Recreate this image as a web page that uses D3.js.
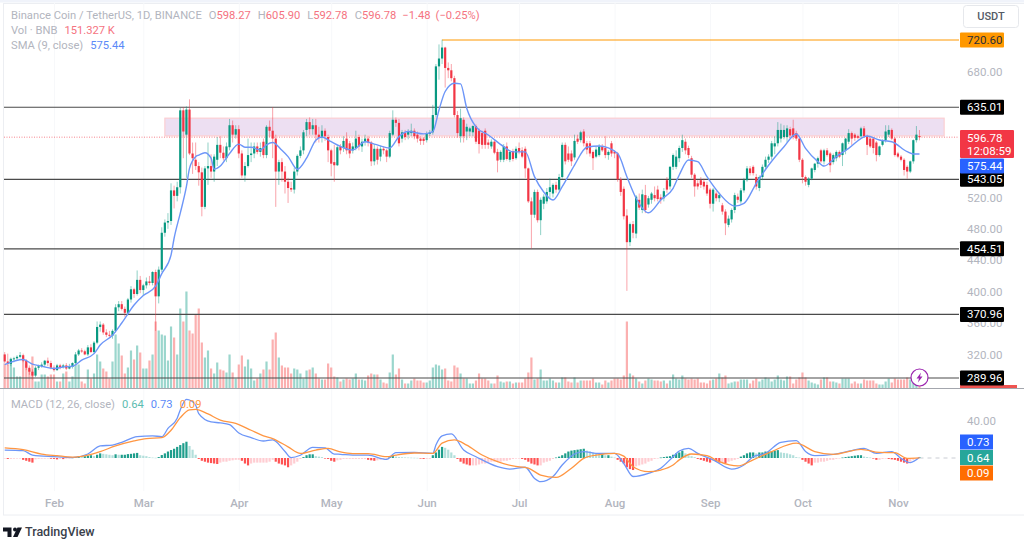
<!DOCTYPE html>
<html>
<head>
<meta charset="utf-8">
<script src="https://cdn.jsdelivr.net/npm/d3@7"></script>
<style>
  html, body { margin: 0; padding: 0; background: #fff; }
  svg { display: block; }
  text { font-family: Roboto, "Open Sans", sans-serif; }
</style>
</head>
<body>
<svg id="chart" width="1024" height="540"></svg>
<script>
// daily candles, bar 0 = 16 Jan
const opens = [
  320,311,308,314,315,317,319,312,303,298,
  293,303,305,307,312,309,303,300,306,304,
  306,302,304,309,320,325,324,320,329,323,
  335,355,358,348,345,344,350,380,384,378,
  373,390,403,397,415,402,408,413,411,425,
  394,428,475,488,490,529,522,533,631,600,
  632,576,568,560,552,508,557,560,553,568,
  587,577,570,584,612,600,607,576,548,560,
  574,576,585,578,591,574,610,605,595,553,
  565,553,540,532,530,553,573,580,606,616,
  607,612,600,596,605,597,580,565,561,585,
  583,595,589,580,583,597,585,591,595,590,
  566,582,572,582,580,572,600,619,615,595,
  602,600,602,605,600,595,595,593,601,603,
  625,687,697,711,685,682,672,625,598,619,
  604,604,603,611,605,602,605,590,585,591,
  578,568,568,585,568,579,570,583,580,582,
  557,515,498,527,491,512,515,527,525,536,
  530,546,587,576,576,571,595,593,604,589,
  589,578,572,574,585,583,574,589,578,576,
  543,531,497,463,486,474,517,504,523,511,
  517,523,530,520,519,542,534,559,559,570,
  583,591,583,570,549,538,542,540,536,530,
  512,525,519,510,502,485,492,504,521,515,
  529,542,557,559,546,532,546,559,568,572,
  585,589,595,597,597,607,608,602,595,568,
  546,536,544,555,563,580,566,580,576,565,
  570,578,574,580,591,602,600,598,598,608,
  598,595,595,590,574,587,593,600,606,595,
  576,572,568,559,553,566,593,598.27
];
const highs = [
  323,321,316,317,319,323,321,314,306,301,
  305,307,310,313,316,312,306,308,308,308,
  309,308,310,323,327,328,326,332,333,337,
  362,362,360,352,350,352,384,388,388,381,
  392,407,405,427,420,410,418,420,426,428,
  432,482,492,500,538,535,540,634,635,636,
  645,590,590,565,558,560,590,575,575,597,
  598,585,590,620,618,612,612,580,565,595,
  590,590,590,590,595,612,618,635,600,568,
  570,560,545,540,558,575,585,606,620,622,
  620,620,610,612,608,600,582,587,586,588,
  598,603,592,590,605,600,595,600,598,592,
  588,585,586,585,582,605,631,622,620,606,
  606,607,614,608,604,598,597,604,606,638,
  690,715,721,712,692,690,675,630,633,622,
  614,610,612,613,608,605,608,594,594,593,
  582,580,588,590,580,582,585,590,584,585,
  558,520,530,530,520,524,532,544,538,540,
  550,590,590,585,580,600,600,605,607,592,
  592,580,585,588,588,598,580,592,580,578,
  546,534,505,488,490,523,525,530,536,522,
  527,534,535,524,532,546,560,576,580,586,
  600,595,586,573,551,542,546,544,540,532,
  532,528,526,513,505,497,506,526,525,532,
  545,560,560,561,550,548,562,572,575,592,
  598,616,614,612,612,610,619,605,597,570,
  548,546,558,564,572,582,582,583,578,576,
  580,580,590,596,607,604,602,600,610,611,
  600,597,597,592,586,594,612,612,608,597,
  578,574,570,561,567,594,611,605.9
];
const lows = [
  309,306,305,310,312,315,310,300,294,288,
  291,300,303,304,305,301,298,299,301,302,
  300,301,302,307,318,322,319,318,322,321,
  333,349,345,342,341,340,348,375,376,368,
  370,386,392,395,398,395,404,408,408,350,
  385,425,470,480,485,506,515,525,570,545,
  574,550,555,535,496,505,536,545,540,560,
  570,567,565,580,590,595,570,545,540,558,
  565,570,575,572,570,570,597,570,508,536,
  540,525,513,527,525,548,570,575,598,600,
  600,590,590,590,592,565,547,540,560,575,
  578,575,570,576,580,580,578,586,585,560,
  561,562,566,575,565,570,598,610,585,590,
  593,594,598,594,590,587,587,590,598,600,
  622,670,690,660,672,668,622,596,590,590,
  593,598,598,588,576,582,582,582,582,575,
  552,565,565,567,565,566,568,575,570,545,
  513,455,494,488,472,505,512,518,520,526,
  528,544,562,565,560,568,588,590,585,575,
  572,555,570,572,578,570,568,572,570,540,
  522,492,401,458,468,468,504,500,500,507,
  512,515,515,512,515,526,530,555,556,565,
  578,575,570,545,521,530,532,530,522,506,
  502,515,514,498,472,482,488,500,513,512,
  526,540,548,548,530,528,542,555,564,568,
  575,585,590,594,590,596,594,592,565,538,
  535,533,542,552,558,564,562,572,552,562,
  566,570,560,575,588,587,592,594,595,597,
  574,583,576,566,572,585,590,597,593,572,
  570,566,548,544,551,563,590,592.78
];
const closes = [
  311,308,314,315,317,319,312,303,298,293,
  303,305,307,312,309,303,300,306,304,306,
  302,304,309,320,325,324,320,329,323,335,
  355,358,348,345,344,350,380,384,378,373,
  390,403,397,415,402,408,413,411,425,394,
  428,475,488,490,529,522,533,631,604,632,
  576,570,560,552,508,557,560,553,572,587,
  577,570,585,612,600,607,576,548,560,574,
  576,585,578,583,574,610,605,595,553,565,
  553,540,532,530,553,573,580,603,616,607,
  612,600,596,605,598,580,563,561,584,580,
  592,580,576,585,595,585,591,595,590,566,
  582,568,582,580,572,602,619,615,589,603,
  597,604,605,598,595,592,592,601,603,625,
  687,697,711,685,682,672,625,602,621,598,
  610,608,611,591,588,587,587,587,591,577,
  567,578,585,569,578,569,582,578,572,557,
  515,498,527,491,517,521,527,533,536,530,
  546,587,566,568,566,592,591,603,589,581,
  576,570,581,585,580,574,578,576,576,543,
  527,496,463,486,475,521,507,524,504,519,
  525,519,518,517,528,530,559,574,572,583,
  593,580,574,549,534,534,536,534,525,512,
  530,519,523,502,487,493,504,523,517,529,
  542,557,551,551,534,546,559,568,572,589,
  589,606,606,606,608,599,597,595,568,546,
  540,544,557,563,570,566,580,574,561,574,
  578,572,589,595,602,595,596,596,608,598,
  587,585,583,574,585,593,604,606,595,574,
  572,568,555,553,566,593,600,596.78
];
const volumes = [
  1250,1200,1500,1050,600,600,1400,1250,950,1600,
  350,350,700,700,600,700,700,350,350,750,
  850,350,600,1200,1200,350,250,950,500,750,
  1700,1350,1000,850,500,1350,2700,2250,1650,750,
  1050,1900,1450,2150,1800,1000,1000,1400,1700,3350,
  2900,2700,2650,1400,3100,2550,1700,4000,3350,4850,
  2900,2750,3700,4000,2300,1550,1900,1000,750,1300,
  950,900,800,1700,800,500,1200,1650,1100,1450,
  1000,400,500,750,950,1350,950,2450,2800,1550,
  1150,1050,1050,750,1000,950,750,500,900,950,
  1050,750,500,450,450,1250,1050,600,550,350,
  450,500,450,500,750,450,450,400,650,750,
  700,700,450,300,250,800,1700,700,1000,450,
  250,250,400,500,400,400,300,300,400,1050,
  1200,1150,950,1000,400,350,1150,1050,750,500,
  500,250,250,400,750,500,500,400,250,250,
  650,350,300,350,350,250,300,300,300,500,
  800,1550,450,500,950,400,400,500,400,300,
  300,550,550,350,300,550,300,400,400,400,
  400,500,300,300,200,400,300,400,500,500,
  450,650,3350,750,650,500,350,250,400,500,
  450,400,400,350,400,250,400,700,500,450,
  650,500,450,500,450,500,300,300,250,400,
  450,500,750,550,650,250,300,350,350,450,
  450,450,250,400,500,350,450,550,500,350,
  450,650,450,400,600,600,250,450,550,800,
  550,400,300,250,200,450,550,550,350,350,
  300,250,500,500,500,250,350,250,250,450,
  400,400,400,250,200,200,350,500,300,500,
  450,450,450,550,450,450,250,151.327
];
// MACD histogram per bar
const macdHist = [
  -0.5,-1,-1,-0.8,-0.6,-0.5,-2,-3,-4,-5,
  -1.5,-1,-0.8,-0.8,-0.6,-0.8,-1,-1.5,-1,-1.2,
  -0.8,-0.5,0.5,1.2,2,1.5,2,2.5,3,2,
  3.5,5,4.5,4,3.5,3,4,3.5,3.5,3.5,
  4.2,4.5,5,5.5,3,2.5,2,1,0.5,0.3,
  1,3.2,5,7,8.6,10,12,14,16,17.6,
  13,9,3.5,-1,-3,-4,-5,-5.5,-6,-6.5,
  -5,-4,-4,-3,-2.5,-2,-2,-3,-6,-8,
  -6,-5,-5,-5,-5,-5,-4,-2,-4,-6,
  -7,-8,-10,-8,-6,-4,-1,1,3,4,
  4,2,1.5,1,-0.5,-1,-3,-4,-2.5,-2,
  -1,-1,-1,-1,-1,-1,-1,-1,-2,-2.5,
  -3,-2.5,-2,-1.5,-1,2,2.5,1.5,1,0.8,
  0.6,0.5,0.4,0.3,0.2,-0.5,-1,-1,-1,3,
  6,9,12,11,9,6,3,-1,-4,-6,
  -7,-8,-8,-8,-7,-6,-6,-5,-4,-4,
  -4,-4,-3,-3,-2,-1,-0.5,-0.5,-1,-2,
  -4,-6,-7,-8,-8,-5,-4,-3,-1,0.5,
  1.5,3,5,7,8,8.5,9,9.5,10,8,
  7,6,5,4,4,3,3,1.5,0.5,-2,
  -4,-6,-10,-12,-13,-9,-8,-7,-6,-4,
  -3,-1,-0.5,0.5,1,1.5,2,3.5,5,6,
  8,5,3,2,1,-1,-2,-3,-4,-5,
  -3,-4,-5,-5,-5.5,-4,-3,-2,-1,1.5,
  3,5,6,6,5,6,6,7,7,7.5,
  8,8.5,6,5.5,5,4,3,1,0.5,-2,
  -4,-6,-8,-5,-5,-4,-4,-3,-2,-2,
  -1,-0.5,0.5,1,1.5,2,2.5,3,3,1.5,
  1,0.5,-0.5,-2,-2,-1,-0.5,-1,-1.5,-2,
  -3,-4,-5,-6,-4,-2,-0.5,0.64
];

// SMA (9) points read at bar numbers
const smaBars = [0,6,9,12,16,19,22,25,29,31,35,38,42,45,49,51,54,55,57,59,60,62,63,65,67,68,70,73,76,78,80,83,85,87,90,92,95,98,101,103,106,109,113,117,120,125,128,131,136,139,141,143,146,148,150,153,157,162,165,169,172,175,178,181,185,189,193,199,202,205,209,213,217,219,222,225,228,232,237,240,244,248,253,257,260,264,266,270,274,280,284,288,293,295,297];
const smaValues = [307,313.5,307.6,305,302,304,305,312.7,321,332,344.5,360,383,395,407,423,446.6,468,500,534,557,572,574,577,570,556,560,576,588,584,584,580.5,587,590,580,572,556,570,593,597,591,585,580.5,591,588,583,597.5,604,601,604,631.5,655,665.5,664.7,633.7,610,599.6,584.7,578,578,546.5,527,516.7,533.7,561.3,584,585.6,576,546.5,519,500.5,516.7,531.6,548.6,567.7,565.6,546.4,525,509,512.4,538,561,584.7,600.9,582.6,565.6,560,572,582.6,598.3,593.2,591,578.3,575.4,575.44];

// MACD lines read at bar numbers
const macdBars = [0,6,9,16,22,27,31,35,38,43,48,51,53,56,57,59,60,62,63,67,70,73,76,80,84,87,91,93,96,100,104,107,109,113,118,124,127,133,139,140,142,145,149,153,160,164,169,172,174,178,181,185,188,192,198,201,204,209,213,217,219,222,225,230,236,240,243,247,252,257,260,263,269,275,279,283,288,291,294,297];
const macdValues = [8.6,8,3.2,1.4,0.4,4.3,13,14,17,23,24,23,32,43,52,63.4,62.7,57,48,39,38,36,27,22,18.4,19.5,7,0.4,3,11.5,11,4.3,4,3.2,3,-1.4,5.8,6,5,14,24,26,8.6,1.4,-9.4,-12,-10,-22,-25.6,-20,-7.6,4.3,7,5,5,-6,-20,-16.6,-11,1.4,7.5,10.5,5,-2,-12,-7.6,1.4,5,17,18.7,7,2.5,4,8,10.5,5,7,-0.4,-5,0.73];
const signalBars = [0,6,12,17,22,27,31,36,42,46,51,54,57,60,62,66,70,75,80,84,87,92,96,101,105,109,113,118,124,127,133,139,142,146,150,155,160,165,170,174,179,184,188,192,198,201,204,209,213,217,219,223,228,232,238,243,249,257,263,269,278,284,289,293,297];
const signalValues = [11,9,4.3,2.5,1,3.2,7,13,18.4,21,22,30,43.6,52,52.6,47.6,41,37.5,30,24,21,12,5,8.6,10.5,6.5,4.7,4.7,1.4,3.2,5.4,5,16,19.5,14,3.2,-4,-8.6,-11,-18.4,-21,-11,-0.4,3.2,5,2,-9.4,-14.8,-13,-7.6,-2,4.3,2.5,-4,-8.6,-2,7,16,7,4,9.4,6,5.8,-0.4,0.09];

const priceTicks = [680,520,480,440,400,360,320];
const levels = [635.01,543.05,454.51,370.96,289.96];
const macdTicks = [40];
const monthBars = [16,45,76,106,137,167,198,229,259,290];
const monthNames = ["Feb","Mar","Apr","May","Jun","Jul","Aug","Sep","Oct","Nov"];

const athPrice = 720.60, athBar = 142;
const lastPrice = 596.78, smaLast = 575.44;
const zoneTop = 621, zoneBottom = 598.5, zoneStartBar = 52, zoneEndBar = 305;

const UP = "#089981", DOWN = "#f23645";

const svg = d3.select("#chart");
const priceRight = 959, rightEdge = 1021;

// scales
const x = d3.scaleLinear().domain([0, 297]).range([4.7, 919.5]);
const y = d3.scaleLinear().domain([720.6, 289.96]).range([40, 378]);
const yVol = d3.scaleLinear().domain([0, 4850]).range([388.5, 291.5]);
const yMacd = d3.scaleLinear().domain([40, 0]).range([421, 458]);

// frame
svg.append("rect").attr("width", 1024).attr("height", 2.5).attr("fill", "#f0f3fa");
svg.append("rect").attr("x", 3.5).attr("y", 3.5).attr("width", rightEdge + 10).attr("height", 511.5)
  .attr("fill", "#fff").attr("stroke", "#eceef2");

// month grid and labels
const xAxis = svg.append("g").attr("transform", "translate(0,491)")
  .call(d3.axisBottom(x).tickValues(monthBars).tickFormat((d, i) => monthNames[i]).tickSize(-488).tickPadding(8));
xAxis.select(".domain").remove();
xAxis.selectAll("line").attr("stroke", "#f7f8fa");
xAxis.selectAll("text").attr("fill", "#b2b5be").attr("font-size", 11.5).attr("font-weight", 500);

const clip = svg.append("g");

// supply zone
clip.append("rect").attr("x", x(zoneStartBar)).attr("y", y(zoneTop))
  .attr("width", x(zoneEndBar) - x(zoneStartBar)).attr("height", y(zoneBottom) - y(zoneTop))
  .attr("fill", "#eddff2").attr("stroke", "#fbcfd2").attr("stroke-width", 1.2);

// volume
clip.selectAll("rect.vol").data(volumes).enter().append("rect").attr("class", "vol")
  .attr("x", (d, i) => x(i) - 1.1).attr("width", 2.2)
  .attr("y", d => yVol(d)).attr("height", d => yVol(0) - yVol(d))
  .attr("fill", (d, i) => closes[i] >= opens[i] ? "#9bd6cd" : "#fbb0b0");

// current price line
clip.append("line").attr("x1", 4).attr("x2", priceRight).attr("y1", y(lastPrice)).attr("y2", y(lastPrice))
  .attr("stroke", DOWN).attr("stroke-opacity", .6).attr("stroke-dasharray", "1 1.5");

// horizontal levels
clip.selectAll("line.level").data(levels).enter().append("line").attr("class", "level")
  .attr("x1", 4).attr("x2", priceRight)
  .attr("y1", d => y(d)).attr("y2", d => y(d))
  .attr("stroke", "#4a4a4a").attr("stroke-width", 1.1);

clip.append("line").attr("x1", x(athBar)).attr("x2", priceRight).attr("y1", y(athPrice)).attr("y2", y(athPrice))
  .attr("stroke", "#ff9800").attr("stroke-width", 1);

// candles
const candles = clip.selectAll("g.candle").data(closes).enter().append("g").attr("class", "candle");
candles.append("line")
  .attr("x1", (d, i) => x(i)).attr("x2", (d, i) => x(i))
  .attr("y1", (d, i) => y(highs[i])).attr("y2", (d, i) => y(lows[i]))
  .attr("stroke", (d, i) => d >= opens[i] ? UP : DOWN).attr("stroke-opacity", .45).attr("stroke-width", 1);
candles.append("rect")
  .attr("x", (d, i) => x(i) - 1.1).attr("width", 2.2)
  .attr("y", (d, i) => y(Math.max(d, opens[i])))
  .attr("height", (d, i) => Math.max(1, Math.abs(y(d) - y(opens[i]))))
  .attr("fill", (d, i) => d >= opens[i] ? UP : DOWN);

// SMA
const curve = d3.curveMonotoneX;
const smaLine = d3.line().x((d, i) => x(smaBars[i])).y(d => y(d)).curve(curve);
clip.append("path").attr("d", smaLine(smaValues)).attr("fill", "none")
  .attr("stroke", "#6d96f8").attr("stroke-width", 1.4);

// pane separator
svg.append("line").attr("x1", 0).attr("x2", 1024).attr("y1", 388.5).attr("y2", 388.5)
  .attr("stroke", "#a3a6ad").attr("stroke-width", 1);

// MACD pane
svg.append("line").attr("x1", x(297)).attr("x2", priceRight).attr("y1", yMacd(0)).attr("y2", yMacd(0))
  .attr("stroke", "#c9ccd3").attr("stroke-dasharray", "4 4");
svg.selectAll("rect.hist").data(macdHist).enter().append("rect").attr("class", "hist")
  .attr("x", (d, i) => x(i) - 1.1).attr("width", 2.2)
  .attr("y", d => Math.min(yMacd(d), yMacd(0)))
  .attr("height", d => Math.max(.6, Math.abs(yMacd(d) - yMacd(0))))
  .attr("fill", (d, i) => {
    const prev = i ? macdHist[i - 1] : d;
    if (d >= 0) return d >= prev ? "#1f9e8c" : "#b2dfdb";
    return d < prev ? "#ff5252" : "#ffcdd2";
  });
const macdLine = d3.line().x((d, i) => x(macdBars[i])).y(d => yMacd(d)).curve(curve);
const signalLine = d3.line().x((d, i) => x(signalBars[i])).y(d => yMacd(d)).curve(curve);
svg.append("path").attr("d", macdLine(macdValues)).attr("fill", "none").attr("stroke", "#6d96f8").attr("stroke-width", 1.3);
svg.append("path").attr("d", signalLine(signalValues)).attr("fill", "none").attr("stroke", "#ff9642").attr("stroke-width", 1.3);

// right axis
const fmt = d3.format(".2f");
const axisR = svg.append("g").attr("transform", "translate(960,0)")
  .call(d3.axisRight(y).tickValues(priceTicks).tickFormat(fmt).tickSize(0).tickPadding(7));
axisR.select(".domain").remove();
axisR.selectAll("text").attr("fill", "#b2b5be").attr("font-size", 11.5);
const axisM = svg.append("g").attr("transform", "translate(960,0)")
  .call(d3.axisRight(yMacd).tickValues(macdTicks).tickFormat(fmt).tickSize(0).tickPadding(7));
axisM.select(".domain").remove();
axisM.selectAll("text").attr("fill", "#b2b5be").attr("font-size", 11.5);

// price tags
function tag(cy, label, bg, w, fg) {
  svg.append("rect").attr("x", 960).attr("y", cy - 7.5).attr("width", w).attr("height", 15).attr("fill", bg).attr("rx", 1);
  svg.append("text").attr("x", 967).attr("y", cy + 4).attr("fill", fg || "#fff")
    .attr("font-size", 11.5).text(label);
}
tag(y(athPrice), "720.60", "#ff9800", 44, "#2a2e39");
// volume stub on the axis, under the lowest tag
svg.append("rect").attr("x", 960).attr("y", 385).attr("width", 57).attr("height", 3).attr("fill", "#ef5350");
levels.forEach(d => tag(y(d), fmt(d), "#000", 44));
// SMA tag is pushed below the current price box, as the platform does
tag(y(smaLast) + 12, fmt(smaLast), "#2962ff", 44);
svg.append("rect").attr("x", 960).attr("y", 130).attr("width", 54).attr("height", 28).attr("fill", DOWN).attr("rx", 1);
svg.append("text").attr("x", 967).attr("y", 142).attr("fill", "#fff").attr("font-size", 11.5).text(fmt(lastPrice));
svg.append("text").attr("x", 967).attr("y", 155).attr("fill", "#fff").attr("font-size", 11.5).text("12:08:59");

function tagM(cy, label, bg) {
  svg.append("rect").attr("x", 960).attr("y", cy - 7.5).attr("width", 33).attr("height", 15).attr("fill", bg);
  svg.append("text").attr("x", 967).attr("y", cy + 4).attr("fill", "#fff").attr("font-size", 11.5).text(label);
}
tagM(442, "0.73", "#2962ff");
tagM(457.5, "0.64", "#26a69a");
tagM(473, "0.09", "#ff6d00");

// USDT button
svg.append("rect").attr("x", 963.5).attr("y", 5.5).attr("width", 55).attr("height", 22).attr("rx", 3)
  .attr("fill", "#fff").attr("stroke", "#e6e8ec");
svg.append("text").attr("x", 991).attr("y", 20).attr("text-anchor", "middle").attr("fill", "#555b66")
  .attr("font-size", 11).attr("font-weight", 500).text("USDT");

// legend
const GRAY = "#b2b5be";
const l1 = svg.append("text").attr("x", 11).attr("y", 19).attr("font-size", 11.2).attr("fill", GRAY);
l1.append("tspan").text("Binance Coin / TetherUS, 1D, BINANCE");
[["O", "598.27"], ["H", "605.90"], ["L", "592.78"], ["C", "596.78"]].forEach((p, i) => {
  l1.append("tspan").attr("dx", i ? 7 : 7).text(p[0]);
  l1.append("tspan").attr("fill", "#f5737f").text(p[1]);
});
l1.append("tspan").attr("dx", 6).attr("fill", "#f5737f").text("−1.48");
l1.append("tspan").attr("dx", 5).attr("fill", "#f5737f").text("(−0.25%)");

const l2 = svg.append("text").attr("x", 11).attr("y", 34).attr("font-size", 11.2).attr("fill", GRAY);
l2.append("tspan").text("Vol · BNB");
l2.append("tspan").attr("dx", 7).attr("fill", "#f5737f").text("151.327 K");

const l3 = svg.append("text").attr("x", 11).attr("y", 49).attr("font-size", 11.2).attr("fill", GRAY);
l3.append("tspan").text("SMA (9, close)");
l3.append("tspan").attr("dx", 7).attr("fill", "#5b8af8").text("575.44");

const l4 = svg.append("text").attr("x", 11).attr("y", 408).attr("font-size", 11.2).attr("fill", GRAY);
l4.append("tspan").text("MACD (12, 26, close)");
l4.append("tspan").attr("dx", 7).attr("fill", "#5cbcb0").text("0.64");
l4.append("tspan").attr("dx", 7).attr("fill", "#5b8af8").text("0.73");
l4.append("tspan").attr("dx", 7).attr("fill", "#ff9642").text("0.09");

// lightning badge on last bar
const bx = x(297), by = y(289.96) - 0.5;
svg.append("circle").attr("cx", bx).attr("cy", by).attr("r", 8.5).attr("fill", "#fff")
  .attr("stroke", "#9c27b0").attr("stroke-width", 1.2);
svg.append("path").attr("transform", `translate(${bx},${by})`)
  .attr("d", "M1.5 -5 L-3 1 L-0.5 1 L-1.5 5 L3 -1 L0.5 -1 Z").attr("fill", "#9c27b0");

// TradingView mark
const logo = svg.append("g").attr("fill", "#131722");
logo.append("path").attr("d", "M3 527.5h8.5v9.5h-4v-5.5h-4.5z");
logo.append("circle").attr("cx", 15).attr("cy", 529.5).attr("r", 2);
logo.append("path").attr("d", "M22 527.5l-4.5 9.5h-4.5l4.5-9.5z");
svg.append("text").attr("x", 25).attr("y", 536).attr("fill", "#3a3f4b").attr("font-size", 12.5).attr("font-weight", 500).text("TradingView");
</script>
</body>
</html>
